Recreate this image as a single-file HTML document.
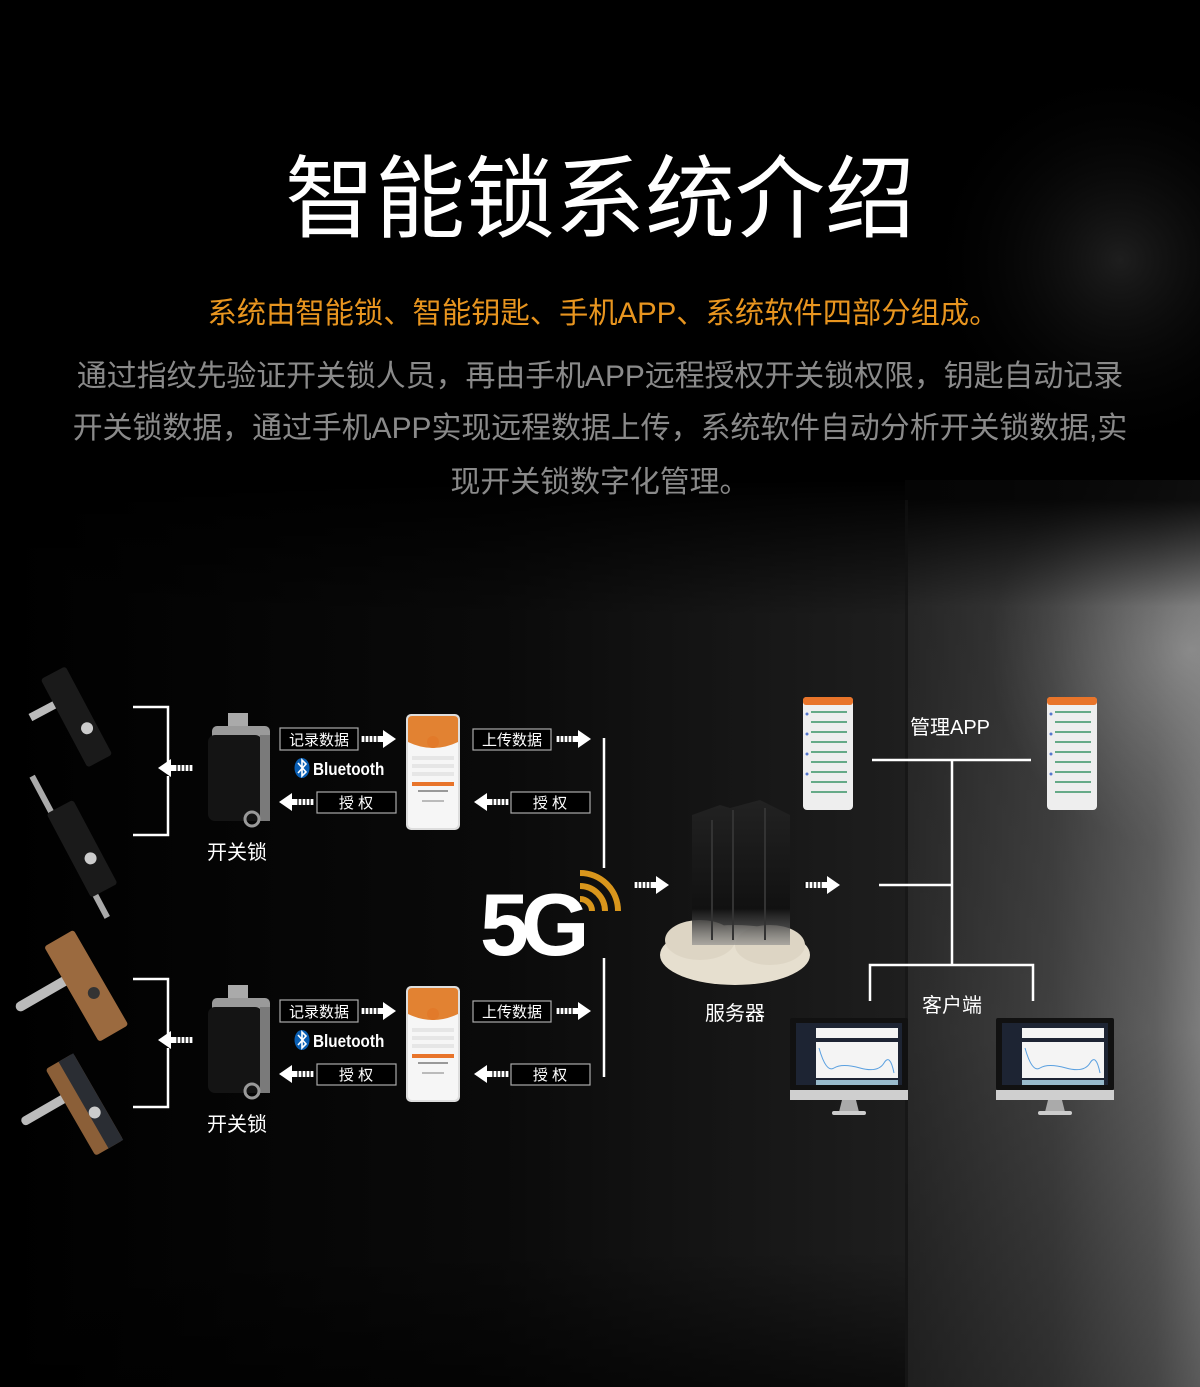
<!DOCTYPE html>
<html><head><meta charset="utf-8"><style>
html,body{margin:0;padding:0;background:#000;}
svg{display:block}
text{font-family:"Liberation Sans","Noto Sans CJK SC",sans-serif;}
</style></head><body>
<svg width="1200" height="1387" viewBox="0 0 1200 1387" xmlns="http://www.w3.org/2000/svg">
<defs>
<linearGradient id="door" x1="905" y1="0" x2="1200" y2="0" gradientUnits="userSpaceOnUse">
<stop offset="0" stop-color="#2e2e2e"/><stop offset="0.5" stop-color="#474747"/><stop offset="0.85" stop-color="#6a6a6a"/><stop offset="1" stop-color="#8a8a8a"/></linearGradient>
<linearGradient id="doorV" x1="0" y1="500" x2="0" y2="1387" gradientUnits="userSpaceOnUse">
<stop offset="0" stop-color="#000" stop-opacity="0.9"/><stop offset="0.12" stop-color="#000" stop-opacity="0.2"/><stop offset="0.6" stop-color="#000" stop-opacity="0.1"/><stop offset="1" stop-color="#000" stop-opacity="0.35"/></linearGradient>
<radialGradient id="hl" cx="1190" cy="650" r="200" gradientUnits="userSpaceOnUse">
<stop offset="0" stop-color="#bbb" stop-opacity="0.7"/><stop offset="1" stop-color="#888" stop-opacity="0"/></radialGradient>
<linearGradient id="mid" x1="0" y1="0" x2="905" y2="0" gradientUnits="userSpaceOnUse">
<stop offset="0" stop-color="#000"/><stop offset="0.55" stop-color="#0a0a0a"/><stop offset="1" stop-color="#1e1e1e"/></linearGradient>
<linearGradient id="midV" x1="0" y1="480" x2="0" y2="1387" gradientUnits="userSpaceOnUse">
<stop offset="0" stop-color="#000"/><stop offset="0.15" stop-color="#000" stop-opacity="0"/><stop offset="0.85" stop-color="#000" stop-opacity="0"/><stop offset="1" stop-color="#000" stop-opacity="0.6"/></linearGradient>
<radialGradient id="g2" cx="1120" cy="260" r="200" gradientUnits="userSpaceOnUse">
<stop offset="0" stop-color="#1e1e1e"/><stop offset="1" stop-color="#000" stop-opacity="0"/></radialGradient>
<linearGradient id="srv" x1="0" y1="0" x2="0" y2="1"><stop offset="0" stop-color="#222"/><stop offset="0.75" stop-color="#111"/><stop offset="1" stop-color="#888" stop-opacity="0.6"/></linearGradient>
<g id="arR"><rect x="0" y="-3" width="24" height="6" fill="#fff"/><path d="M0 -3v6M4 -3v6M8 -3v6M12 -3v6M16 -3v6" stroke="#000" stroke-width="1.2"/><path d="M22 -9L35 0L22 9Z" fill="#fff"/></g>
<g id="arL"><use href="#arR" transform="scale(-1,1)"/></g>
<g id="phone"><rect x="0" y="0" width="54" height="116" rx="5" fill="#ddd"/><rect x="2" y="2" width="50" height="112" rx="4" fill="#f6f6f6"/><path d="M2 6Q2 2 6 2H48Q52 2 52 6V28Q27 40 2 28Z" fill="#e28232"/><circle cx="27" cy="28" r="6" fill="#e27a2a"/><rect x="6" y="42" width="42" height="4" fill="#e6e6e6"/><rect x="6" y="50" width="42" height="4" fill="#e6e6e6"/><rect x="6" y="58" width="42" height="4" fill="#e6e6e6"/><rect x="6" y="68" width="42" height="4" fill="#e8742a"/><rect x="12" y="76" width="30" height="2" fill="#999"/><rect x="16" y="86" width="22" height="2" fill="#bbb"/></g>
<g id="mphone"><rect x="0" y="0" width="50" height="113" rx="4" fill="#eee"/><rect x="0" y="0" width="50" height="8" rx="3" fill="#e8742a"/><g fill="#6a8"><rect x="8" y="14" width="36" height="2"/><rect x="8" y="24" width="36" height="2"/><rect x="8" y="34" width="36" height="2"/><rect x="8" y="44" width="36" height="2"/><rect x="8" y="54" width="36" height="2"/><rect x="8" y="64" width="36" height="2"/><rect x="8" y="74" width="36" height="2"/><rect x="8" y="84" width="36" height="2"/><rect x="8" y="94" width="36" height="2"/></g><g fill="#57c"><circle cx="4" cy="17" r="1.5"/><circle cx="4" cy="37" r="1.5"/><circle cx="4" cy="57" r="1.5"/><circle cx="4" cy="77" r="1.5"/></g></g>
<g id="mon"><rect x="0" y="0" width="118" height="72" rx="2" fill="#111"/><rect x="6" y="5" width="106" height="62" fill="#1d2433"/><rect x="26" y="10" width="82" height="10" fill="#f4f4f4"/><rect x="26" y="24" width="82" height="36" fill="#f4f4f4"/><path d="M29 30Q36 55 44 50T70 50T94 45T104 55" stroke="#5aa0e0" fill="none"/><rect x="26" y="62" width="82" height="5" fill="#9bc"/><rect x="0" y="72" width="118" height="10" fill="#cfcfcf"/><path d="M52 82h14l3 12h-20z" fill="#aaa"/><rect x="42" y="93" width="34" height="4" rx="2" fill="#ccc"/></g>
<g id="lock"><rect x="22" y="0" width="20" height="14" fill="#aaa"/><rect x="6" y="13" width="58" height="20" rx="5" fill="#9a9a9a"/><rect x="2" y="22" width="54" height="86" rx="7" fill="#141414"/><rect x="54" y="22" width="10" height="86" fill="#7a7a7a"/><circle cx="46" cy="106" r="7" fill="none" stroke="#999" stroke-width="3"/></g>
<g id="bt"><ellipse cx="7" cy="0" rx="7.5" ry="10" fill="#0a5fb4"/><path d="M3 -5L11 4L7 8V-8L11 -4L3 5" stroke="#fff" stroke-width="1.6" fill="none"/></g>
<g id="grp">
<path d="M133 707H168V762M168 776V835H133" stroke="#fff" stroke-width="2.5" fill="none"/>
<use href="#arL" x="193" y="768"/>
<use href="#lock" x="206" y="713"/>
<text x="237" y="859" fill="#fff" font-size="20" text-anchor="middle">开关锁</text>
<rect x="280" y="728" width="78" height="22" fill="#000" stroke="#aaa" stroke-width="1.2"/>
<text x="319" y="745" fill="#fff" font-size="15" text-anchor="middle">记录数据</text>
<use href="#arR" x="361" y="739"/>
<use href="#bt" x="295" y="768"/>
<text x="313" y="775" fill="#fff" font-size="18" font-weight="bold" transform="translate(313 0) scale(0.85 1) translate(-313 0)">Bluetooth</text>
<rect x="317" y="792" width="79" height="21" fill="#000" stroke="#aaa" stroke-width="1.2"/>
<text x="356" y="808" fill="#fff" font-size="15" text-anchor="middle">授 权</text>
<use href="#arL" x="314" y="802"/>
<use href="#phone" x="406" y="714"/>
<rect x="473" y="729" width="78" height="21" fill="#000" stroke="#aaa" stroke-width="1.2"/>
<text x="512" y="745" fill="#fff" font-size="15" text-anchor="middle">上传数据</text>
<use href="#arR" x="556" y="739"/>
<rect x="511" y="792" width="79" height="21" fill="#000" stroke="#aaa" stroke-width="1.2"/>
<text x="550" y="808" fill="#fff" font-size="15" text-anchor="middle">授 权</text>
<use href="#arL" x="509" y="802"/>
</g>
</defs>
<rect width="1200" height="1387" fill="#000"/>
<rect width="1200" height="1387" fill="url(#g2)"/>
<rect x="0" y="480" width="905" height="907" fill="url(#mid)"/>
<rect x="0" y="480" width="905" height="907" fill="url(#midV)"/>
<rect x="905" y="480" width="295" height="907" fill="url(#door)"/>
<rect x="905" y="480" width="295" height="907" fill="url(#hl)"/>
<rect x="905" y="480" width="295" height="907" fill="url(#doorV)"/>
<rect x="905" y="500" width="3" height="887" fill="#111" opacity="0.7"/>

<text x="600" y="230" fill="#fff" font-size="90" text-anchor="middle">智能锁系统介绍</text>
<text x="603" y="323" fill="#e8951f" font-size="29.3" text-anchor="middle">系统由智能锁、智能钥匙、手机APP、系统软件四部分组成。</text>
<text x="600" y="386" fill="#8a8a8a" font-size="29.9" text-anchor="middle">通过指纹先验证开关锁人员，再由手机APP远程授权开关锁权限，钥匙自动记录</text>
<text x="600" y="438" fill="#8a8a8a" font-size="29.9" text-anchor="middle">开关锁数据，通过手机APP实现远程数据上传，系统软件自动分析开关锁数据,实</text>
<text x="600" y="492" fill="#8a8a8a" font-size="29.9" text-anchor="middle">现开关锁数字化管理。</text>

<!-- lock handles -->
<g transform="rotate(-28 80 715)"><rect x="35" y="690" width="30" height="8" fill="#bbb"/><rect x="62" y="665" width="28" height="100" rx="3" fill="#1a1a1a"/><circle cx="80" cy="730" r="6" fill="#ccc"/></g>
<g transform="rotate(-28 85 850)"><rect x="70" y="760" width="6" height="160" fill="#aaa"/><rect x="68" y="800" width="30" height="95" rx="3" fill="#1a1a1a"/><circle cx="86" cy="860" r="6" fill="#ccc"/></g>
<g transform="rotate(-30 95 975)"><rect x="10" y="960" width="60" height="10" rx="5" fill="#bbb"/><rect x="65" y="925" width="34" height="110" rx="3" fill="#9b6a3f"/><circle cx="85" cy="990" r="6" fill="#333"/></g>
<g transform="rotate(-30 95 1095)"><rect x="18" y="1078" width="55" height="9" rx="4" fill="#bbb"/><rect x="65" y="1048" width="32" height="100" rx="3" fill="#8b5f38"/><rect x="80" y="1048" width="17" height="100" fill="#2a2d33"/><circle cx="86" cy="1110" r="6" fill="#ccc"/></g>

<use href="#grp"/>
<use href="#grp" y="272"/>

<path d="M604 738V868M604 958V1077" stroke="#fff" stroke-width="2.5"/>
<!-- 5G -->
<text x="480" y="955" fill="#fff" font-size="88" font-weight="bold" letter-spacing="-8">5G</text>
<path d="M580 903A12 12 0 0 1 592 915M580 890A25 25 0 0 1 605 915M580 877A38 38 0 0 1 618 915" stroke="#d9961c" stroke-width="6" fill="none" transform="translate(0 -4)"/>
<use href="#arR" x="634" y="885"/>
<!-- server -->
<ellipse cx="735" cy="955" rx="75" ry="30" fill="#e6dfcf"/>
<ellipse cx="700" cy="940" rx="35" ry="20" fill="#ddd5c4"/>
<ellipse cx="770" cy="945" rx="35" ry="20" fill="#ddd5c4"/>
<path d="M692 815L720 805L730 808L760 800L790 815V945H692Z" fill="url(#srv)"/>
<path d="M712 820V940M733 810V940M765 808V940" stroke="#333" stroke-width="2"/>
<text x="735" y="1020" fill="#fff" font-size="20" text-anchor="middle">服务器</text>
<use href="#arR" x="805" y="885"/>
<!-- tree -->
<path d="M872 760H1031M952 760V965M879 885H952M870 1001V965H1033V1001" stroke="#fff" stroke-width="2.5" fill="none"/>
<text x="950" y="734" fill="#fff" font-size="20" text-anchor="middle">管理APP</text>
<text x="952" y="1012" fill="#fff" font-size="20" text-anchor="middle">客户端</text>
<use href="#mphone" x="803" y="697"/>
<use href="#mphone" x="1047" y="697"/>
<use href="#mon" x="790" y="1018"/>
<use href="#mon" x="996" y="1018"/>
</svg>
</body></html>
